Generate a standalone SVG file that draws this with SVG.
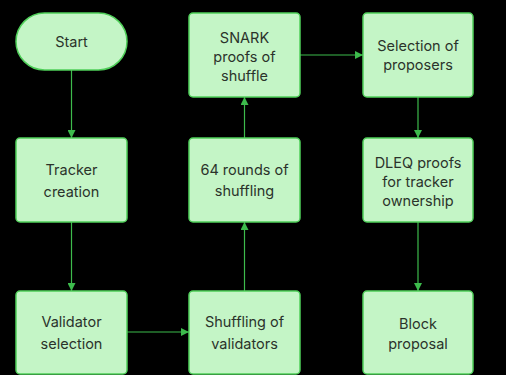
<svg xmlns="http://www.w3.org/2000/svg" width="506" height="375" viewBox="0 0 506 375">
  <defs>
    <marker id="arrow" viewBox="0 0 10 10" refX="10" refY="5" markerWidth="8" markerHeight="8" markerUnits="userSpaceOnUse" orient="auto">
      <path d="M0,0 L10,5 L0,10 Z" fill="#3dbb4c"/>
    </marker>
    <style>
      .node rect { fill: #c4f5c6; stroke: #4fcf59; stroke-width: 1.5; }
      .node text { font-family: Inter, "Liberation Sans", sans-serif; font-size: 14.5px; fill: #2b332b; text-anchor: middle; }
      .edge { stroke: #3dbb4c; stroke-width: 1.2; fill: none; marker-end: url(#arrow); }
    </style>
  </defs>
  <rect width="506" height="375" fill="#000"/>

  <g id="connectors">
    <line class="edge" x1="71.5" y1="70" x2="71.5" y2="138"/>
    <line class="edge" x1="71.5" y1="222" x2="71.5" y2="291"/>
    <line class="edge" x1="127" y1="332" x2="189" y2="332"/>
    <line class="edge" x1="244.5" y1="291" x2="244.5" y2="222"/>
    <line class="edge" x1="244.5" y1="138" x2="244.5" y2="97"/>
    <line class="edge" x1="300" y1="55" x2="363" y2="55"/>
    <line class="edge" x1="418" y1="97" x2="418" y2="138"/>
    <line class="edge" x1="418" y1="222" x2="418" y2="291"/>
  </g>

  <g id="start" class="node">
    <rect x="16" y="13" width="111" height="57" rx="28.5"/>
    <text x="71.5" y="47">Start</text>
  </g>
  <g id="tracker-creation" class="node">
    <rect x="16" y="138" width="111" height="84" rx="4"/>
    <text x="71.5" y="175">Tracker</text>
    <text x="71.5" y="197">creation</text>
  </g>
  <g id="validator-selection" class="node">
    <rect x="16" y="291" width="111" height="83" rx="4"/>
    <text x="71.5" y="327">Validator</text>
    <text x="71.5" y="349">selection</text>
  </g>
  <g id="snark-proofs" class="node">
    <rect x="189" y="13" width="111" height="84" rx="4"/>
    <text x="244.5" y="43">SNARK</text>
    <text x="244.5" y="62">proofs of</text>
    <text x="244.5" y="81">shuffle</text>
  </g>
  <g id="shuffle-rounds" class="node">
    <rect x="189" y="138" width="111" height="84" rx="4"/>
    <text x="244.5" y="175">64 rounds of</text>
    <text x="244.5" y="196">shuffling</text>
  </g>
  <g id="validator-shuffling" class="node">
    <rect x="189" y="291" width="111" height="83" rx="4"/>
    <text x="244.5" y="327">Shuffling of</text>
    <text x="244.5" y="349">validators</text>
  </g>
  <g id="proposer-selection" class="node">
    <rect x="363" y="13" width="110" height="84" rx="4"/>
    <text x="418" y="51">Selection of</text>
    <text x="418" y="70">proposers</text>
  </g>
  <g id="dleq-proofs" class="node">
    <rect x="363" y="138" width="110" height="84" rx="4"/>
    <text x="418" y="168">DLEQ proofs</text>
    <text x="418" y="187">for tracker</text>
    <text x="418" y="206">ownership</text>
  </g>
  <g id="block-proposal" class="node">
    <rect x="363" y="291" width="110" height="83" rx="4"/>
    <text x="418" y="329">Block</text>
    <text x="418" y="349">proposal</text>
  </g>
</svg>
